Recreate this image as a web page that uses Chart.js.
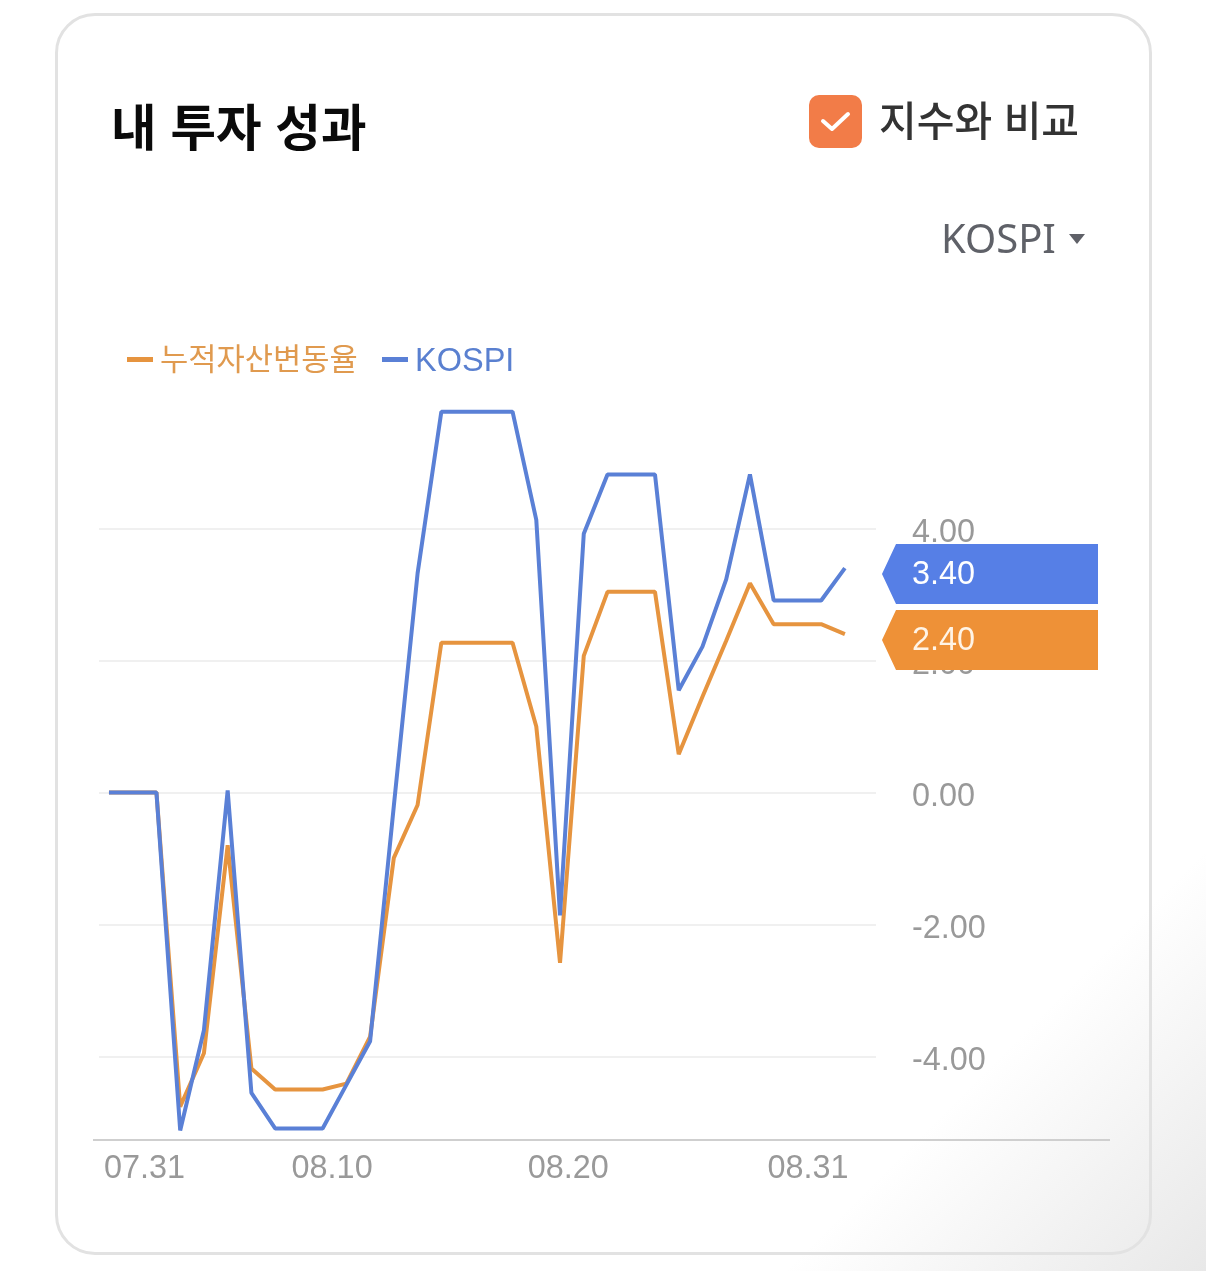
<!DOCTYPE html>
<html lang="ko">
<head>
<meta charset="UTF-8">
<title>내 투자 성과</title>
<script src="https://cdn.jsdelivr.net/npm/chart.js"></script>
<style>
    html, body { margin: 0; padding: 0; }
    body {
        width: 1206px; height: 1271px; position: relative; overflow: hidden;
        background: linear-gradient(135deg, #fff 83%, #e8e8e8 100%);
        font-family: "Noto Sans CJK KR", sans-serif;
    }
    #card {
        position: absolute; left: 55px; top: 13px; width: 1091px; height: 1236px;
        border: 3px solid #e2e2e2; border-radius: 40px;
    }
    #chart { position: absolute; left: 0; top: 0; }
    .abs { position: absolute; white-space: nowrap; line-height: 1; }
    #title { left: 111px; top: 100px; font-size: 49.5px; font-weight: 700; color: #0a0a0a; }
    #check { left: 809px; top: 95px; width: 53px; height: 53px; border-radius: 10px; background: #f27c48; }
    #compare { left: 879px; top: 98px; font-size: 41px; font-weight: 500; color: #333; }
    #picker { left: 941px; top: 218px; font-size: 40px; color: #5f6168; font-family: "Noto Sans", sans-serif; }
    #caret { left: 1069px; top: 234px; width: 0; height: 0; border-left: 8.5px solid transparent; border-right: 8.5px solid transparent; border-top: 10px solid #5f6168; }
    .key { top: 357px; height: 5px; width: 26px; }
    .keytext { top: 345px; font-size: 30.7px; font-family: "Liberation Sans", "Noto Sans CJK KR", sans-serif; }
</style>
</head>
<body>
<div id="card"></div>
<canvas id="chart" width="1206" height="1271"></canvas>

<div class="abs" id="title">내 투자 성과</div>
<div class="abs" id="check">
    <svg width="53" height="53"><polyline points="14,26 23,34 39,19" fill="none" stroke="#fff" stroke-width="4" stroke-linecap="round" stroke-linejoin="round"/></svg>
</div>
<div class="abs" id="compare">지수와 비교</div>
<div class="abs" id="picker">KOSPI</div>
<div class="abs" id="caret"></div>

<div class="abs key" style="left:127px;background:#e6943f"></div>
<div class="abs keytext" style="left:160px;color:#e09a4f">누적자산변동율</div>
<div class="abs key" style="left:382px;background:#5a80d6"></div>
<div class="abs keytext" style="left:415px;color:#5a80d0;font-size:32.5px;top:344px">KOSPI</div>

<script>
    // one value per day, 07.31 to 08.31
    const days = ['07.31','08.01','08.02','08.03','08.04','08.05','08.06','08.07','08.08','08.09','08.10',
        '08.11','08.12','08.13','08.14','08.15','08.16','08.17','08.18','08.19','08.20',
        '08.21','08.22','08.23','08.24','08.25','08.26','08.27','08.28','08.29','08.30','08.31'];
    const assetChange = [0, 0, 0, -4.76, -3.95, -0.8, -4.18, -4.5, -4.5, -4.5, -4.41,
        -3.7, -0.99, -0.19, 2.27, 2.27, 2.27, 2.27, 1.0, -2.58, 2.07,
        3.04, 3.04, 3.04, 0.58, 1.45, 2.3, 3.17, 2.55, 2.55, 2.55, 2.4];
    const kospi = [0, 0, 0, -5.12, -3.6, 0.03, -4.55, -5.09, -5.09, -5.09, -4.43,
        -3.77, -0.2, 3.32, 5.77, 5.77, 5.77, 5.77, 4.13, -1.86, 3.92,
        4.82, 4.82, 4.82, 1.55, 2.21, 3.23, 4.82, 2.91, 2.91, 2.91, 3.4];
    const yTicks = [4, 2, 0, -2, -4];
    const xTickLabels = ['07.31', '08.10', '08.20', '08.31'];
    const xTickSlots = [1.5, 9.4, 19.35, 29.45]; // labels sit off their own day in the source

    const toPoints = values => values.map((v, i) => ({ x: i, y: v, day: days[i] }));

    // x axis line runs past the plot area on both sides
    const axisLine = {
        id: 'axisLine',
        afterDraw(chart) {
            const c = chart.ctx, y = chart.chartArea.bottom;
            c.save();
            c.strokeStyle = '#cfcfcf';
            c.lineWidth = 2;
            c.beginPath();
            c.moveTo(93, y);
            c.lineTo(1110, y);
            c.stroke();
            c.restore();
        }
    };

    // last value flags on the right
    const lastValueTags = {
        id: 'lastValueTags',
        afterDraw(chart) {
            const c = chart.ctx, yScale = chart.scales.y;
            const tags = [
                { value: assetChange[assetChange.length - 1], color: '#ee9137', text: '#fff4e6' },
                { value: kospi[kospi.length - 1], color: '#567fe6', text: '#ffffff' }
            ];
            tags.forEach(tag => {
                const y = yScale.getPixelForValue(tag.value) + 6;
                c.save();
                c.fillStyle = tag.color;
                c.beginPath();
                c.moveTo(882, y);
                c.lineTo(896, y - 30);
                c.lineTo(1098, y - 30);
                c.lineTo(1098, y + 30);
                c.lineTo(896, y + 30);
                c.closePath();
                c.fill();
                c.fillStyle = tag.text;
                c.font = '32.4px "Liberation Sans"';
                c.textAlign = 'left';
                c.textBaseline = 'middle';
                c.fillText(tag.value.toFixed(2), 912, y + 1);
                c.restore();
            });
        }
    };

    new Chart(document.getElementById('chart').getContext('2d'), {
        type: 'line',
        data: {
            datasets: [
                { label: '누적자산변동율', data: toPoints(assetChange), borderColor: '#e6943f', order: 1 },
                { label: 'KOSPI', data: toPoints(kospi), borderColor: '#5a80d6', order: 0 }
            ]
        },
        options: {
            responsive: false,
            animation: false,
            layout: { padding: { left: 99, top: 400, right: 0, bottom: 0 } },
            elements: {
                line: { borderWidth: 4, tension: 0, borderJoinStyle: 'bevel', borderCapStyle: 'butt' },
                point: { radius: 0 }
            },
            plugins: { legend: { display: false }, tooltip: { enabled: false } },
            scales: {
                x: {
                    type: 'linear',
                    min: -0.42,
                    max: 32.31,
                    afterFit(scale) { scale.height = 131; },
                    afterBuildTicks(scale) { scale.ticks = xTickSlots.map(v => ({ value: v })); },
                    grid: { display: false },
                    border: { display: false },
                    ticks: {
                        autoSkip: false,
                        maxRotation: 0,
                        padding: 2,
                        color: '#999',
                        font: { family: '"Liberation Sans"', size: 32.4 },
                        callback: (v, i) => xTickLabels[i]
                    }
                },
                y: {
                    position: 'right',
                    min: -5.265,
                    max: 5.947,
                    afterFit(scale) { scale.width = 330; },
                    afterBuildTicks(scale) { scale.ticks = yTicks.map(v => ({ value: v })); },
                    grid: { color: '#f0f0f0', lineWidth: 2, drawTicks: false },
                    border: { display: false },
                    ticks: {
                        padding: 36,
                        color: '#999',
                        // empty first line + 10px line height pushes the label 5px below its grid line
                        font: { family: '"Liberation Sans"', size: 32.4, lineHeight: '10px' },
                        callback: v => ['', v.toFixed(2)]
                    }
                }
            }
        },
        plugins: [axisLine, lastValueTags]
    });
</script>
</body>
</html>
